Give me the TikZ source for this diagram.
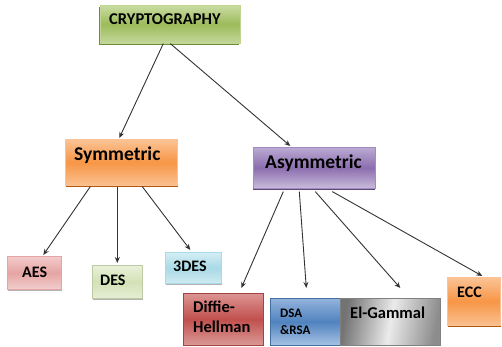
\documentclass[tikz,border=0pt]{standalone}
\usepackage{fontspec}
\setmainfont{Carlito}
\usetikzlibrary{arrows.meta,shadows}

% palette
\definecolor{grnTop}{HTML}{CADCA2}
\definecolor{grnMid}{HTML}{9CBB5A}
\definecolor{grnBot}{HTML}{C4D89C}
\definecolor{grnDark}{HTML}{6F8A38}
\definecolor{orgTop}{HTML}{FBC395}
\definecolor{orgMid}{HTML}{F79646}
\definecolor{orgBot}{HTML}{FAC08F}
\definecolor{orgDark}{HTML}{B65708}
\definecolor{purTop}{HTML}{BBAAD2}
\definecolor{purMid}{HTML}{8B6EAF}
\definecolor{purBot}{HTML}{C9BCDB}
\definecolor{purDark}{HTML}{5F497A}
\definecolor{pnkTop}{HTML}{F4CBCB}
\definecolor{pnkMid}{HTML}{E5A5A4}
\definecolor{pnkBot}{HTML}{F2CDCD}
\definecolor{lgrTop}{HTML}{EAF1DA}
\definecolor{lgrMid}{HTML}{D3E1B6}
\definecolor{lgrBot}{HTML}{E6EED5}
\definecolor{lblTop}{HTML}{D4EEF4}
\definecolor{lblMid}{HTML}{A9DAE6}
\definecolor{lblBot}{HTML}{CFEAF1}
\definecolor{redTop}{HTML}{DC9593}
\definecolor{redMid}{HTML}{C0504D}
\definecolor{redBot}{HTML}{DA9A98}
\definecolor{bluTop}{HTML}{93B3DC}
\definecolor{bluMid}{HTML}{5083BF}
\definecolor{bluBot}{HTML}{A7C2E3}
\definecolor{inkLine}{HTML}{333333}

\tikzset{
  box/.style={rectangle, inner sep=0pt, line width=0.6pt, anchor=north west},
  lbl/.style={inner sep=0pt, anchor=base west, text=black},
  fs/.style={font=\fontsize{#1}{#1}\selectfont\bfseries},
  arr/.style={-{Stealth[length=6pt,width=5pt]}, line width=0.9pt, draw=inkLine},
  greenbox/.style={box, top color=grnTop, bottom color=grnBot, middle color=grnMid,
    draw=grnTop!80!grnMid, drop shadow={shadow xshift=-1pt, shadow yshift=-2pt, fill=grnDark, opacity=1}},
  orangebox/.style={box, top color=orgTop, bottom color=orgBot, middle color=orgMid,
    draw=orgTop, drop shadow={shadow xshift=0.5pt, shadow yshift=-2pt, fill=orgDark, opacity=1}},
  purplebox/.style={box, top color=purTop, bottom color=purBot, middle color=purMid,
    draw=purMid!80!white, drop shadow={shadow xshift=0pt, shadow yshift=-2pt, fill=purDark, opacity=1}},
  pinkbox/.style={box, top color=pnkTop, bottom color=pnkBot, middle color=pnkMid,
    draw=pnkMid, drop shadow={shadow xshift=1pt, shadow yshift=-1.5pt, fill=black!30, opacity=1}},
  lightgreenbox/.style={box, top color=lgrTop, bottom color=lgrBot, middle color=lgrMid,
    draw=lgrMid!90!black, drop shadow={shadow xshift=1pt, shadow yshift=-1.5pt, fill=black!30, opacity=1}},
  lightbluebox/.style={box, top color=lblTop, bottom color=lblBot, middle color=lblMid,
    draw=lblMid, drop shadow={shadow xshift=1pt, shadow yshift=-1.5pt, fill=black!30, opacity=1}},
  redbox/.style={box, top color=redTop, bottom color=redBot, middle color=redMid, draw=redMid!85!black},
  bluebox/.style={box, top color=bluTop, bottom color=bluBot, middle color=bluMid, draw=bluMid!85!black},
  graybox/.style={box, shading=axis, left color=black!55, right color=black!45, middle color=black!8,
    shading angle=80, draw=black!50},
}

\begin{document}
\begin{tikzpicture}[x=1pt, y=-1pt]
  \useasboundingbox[fill=white] (0,0) rectangle (502,347);

  % root
  \node[greenbox, minimum width=140pt, minimum height=38pt] (crypto) at (100,5) {};
  \node[lbl, fs=16.5] (cryptoT) at (109,25) {CRYPTOGRAPHY};

  % second level
  \node[orangebox, minimum width=112pt, minimum height=46pt] (sym) at (65,139) {};
  \node[lbl, fs=19.5] (symT) at (74,161) {Symmetric};

  \node[purplebox, minimum width=122pt, minimum height=41pt] (asym) at (253,147) {};
  \node[lbl, fs=19.5] (asymT) at (265,168) {Asymmetric};

  % symmetric algorithms
  \node[pinkbox, minimum width=54pt, minimum height=33pt] (aes) at (7,256) {};
  \node[lbl, fs=16] (aesT) at (22,277) {AES};

  \node[lightgreenbox, minimum width=50pt, minimum height=33pt] (des) at (92,265) {};
  \node[lbl, fs=16] (desT) at (100,285) {DES};

  \node[lightbluebox, minimum width=56pt, minimum height=31pt] (tdes) at (165,252) {};
  \node[lbl, fs=16] (tdesT) at (173,271) {3DES};

  % asymmetric algorithms
  \node[redbox, minimum width=80pt, minimum height=52pt] (dh) at (183,293) {};
  \node[lbl, anchor=north west, align=left, font=\fontsize{16.5}{20}\selectfont\bfseries] (dhT) at (193,300.5) {Diffie-\\Hellman};

  \node[bluebox, minimum width=70pt, minimum height=47pt] (dsa) at (270,298) {};
  \node[lbl, anchor=north west, align=left, font=\fontsize{13}{17}\selectfont\bfseries] (dsaT) at (280,308.5) {DSA\\\&RSA};

  \node[graybox, minimum width=100pt, minimum height=47pt] (elg) at (340,298) {};
  \node[lbl, fs=16.5] (elgT) at (350,318) {El-Gammal};

  \node[orangebox, minimum width=53pt, minimum height=48pt] (ecc) at (447,277) {};
  \node[lbl, fs=16] (eccT) at (457,297) {ECC};

  % connectors
  \draw[arr] ([xshift=-7pt]crypto.south) -- ([xshift=-2pt,yshift=1pt]sym.north);
  \draw[arr] (crypto.south) -- ([xshift=-24pt,yshift=1pt]asym.north);

  \draw[arr] ([xshift=-31pt,yshift=-1pt]sym.south) -- ([xshift=9pt,yshift=1pt]aes.north);
  \draw[arr] ([xshift=-4pt,yshift=-1pt]sym.south) -- ([xshift=0pt,yshift=2pt]des.north);
  \draw[arr] ([xshift=21pt,yshift=-1pt]sym.south) -- ([xshift=-3pt,yshift=2pt]tdes.north);

  \draw[arr] ([xshift=-31pt,yshift=-3pt]asym.south) -- ([xshift=18pt,yshift=5pt]dh.north);
  \draw[arr] ([xshift=-15pt,yshift=-3pt]asym.south) -- ([xshift=1pt,yshift=10pt]dsa.north);
  \draw[arr] ([xshift=1pt,yshift=-3pt]asym.south) -- ([xshift=10pt,yshift=10pt]elg.north);
  \draw[arr] ([xshift=18pt,yshift=-3pt]asym.south) -- ([xshift=8.5pt,yshift=1pt]ecc.north);
\end{tikzpicture}
\end{document}
